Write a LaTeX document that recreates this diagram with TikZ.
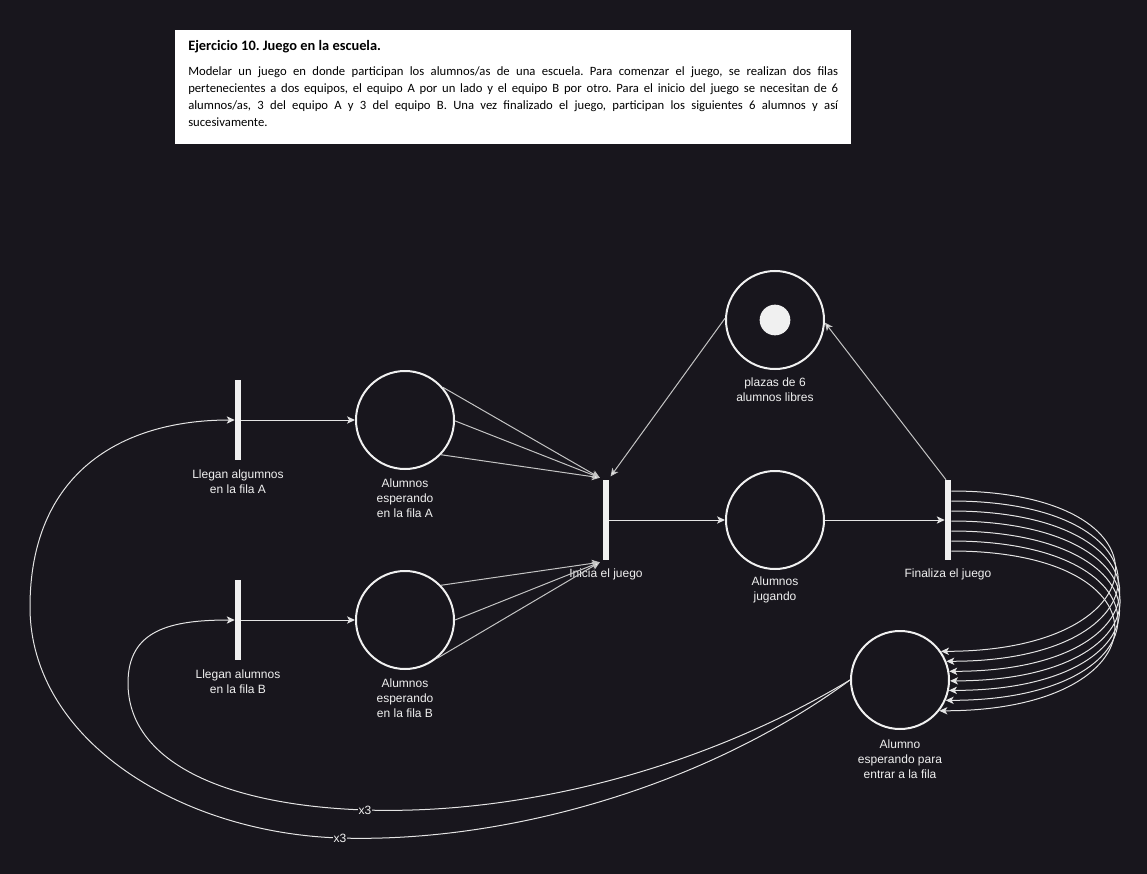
\documentclass[tikz,border=0pt]{standalone}
\usepackage{fontspec}
\setmainfont{Liberation Sans}
\newfontfamily\hdrfont{Carlito}
\usetikzlibrary{arrows.meta}
\definecolor{bg}{HTML}{18161D}
\definecolor{ink}{HTML}{F0F0F0}
\definecolor{edge}{HTML}{E4E4E4}
\definecolor{slant}{HTML}{C4C4C4}
\begin{document}
\begin{tikzpicture}[x=0.75pt,y=-0.75pt,
  place/.style={circle,draw=ink,line width=1.5pt,minimum size=73.5pt,inner sep=0pt},
  token/.style={circle,fill=ink,minimum size=23pt,inner sep=0pt},
  bar/.style={rectangle,fill=ink,minimum width=4.5pt,minimum height=60pt,inner sep=0pt},
  lbl/.style={text=ink,font=\fontsize{9}{11.25}\selectfont,align=center,inner sep=0pt},
  xlbl/.style={text=ink,fill=bg,font=\fontsize{9}{11}\selectfont,inner sep=0.6pt},
  arc/.style={draw=edge,line width=0.75pt,-{Stealth[length=6pt,width=5.5pt,inset=1.6pt]}},
  slarc/.style={arc,draw=slant,-{Stealth[length=6pt,width=5.5pt,inset=1.6pt,fill=ink]}}
]
% canvas
\fill[bg] (0,0) rectangle (1147,874);
\useasboundingbox (0,0) rectangle (1147,874);

% statement box
\node[fill=white,minimum width=507pt,minimum height=85.5pt,inner sep=0pt,anchor=north west] (box) at (175,30) {};
\node[anchor=north west,inner sep=0pt,text width=487.5pt,align=justify] (stmt) at (188,40)
{\hdrfont\frenchspacing\fontsize{9.5}{12.8}\selectfont\parindent=0pt
{\bfseries\fontsize{10.8}{12.8}\selectfont Ejercicio 10. Juego en la escuela.}\par\vspace{5.8pt}
Modelar un juego en donde participan los alumnos/as de una escuela. Para comenzar el juego, se realizan dos filas\linebreak
pertenecientes a dos equipos, el equipo A por un lado y el equipo B por otro. Para el inicio del juego se necesitan de 6\linebreak
alumnos/as, 3 del equipo A y 3 del equipo B. Una vez finalizado el juego, participan los siguientes 6 alumnos y así\linebreak
sucesivamente.\par};

% places
\node[place] (pa)  at (405,420) {};
\node[place] (pb)  at (405,620) {};
\node[place] (plz) at (775,320) {};
\node[token] (tok) at (775,320) {};
\node[place] (jug) at (775,520) {};
\node[place] (esp) at (900,680) {};

% transitions
\node[bar] (ta)  at (238,420) {};
\node[bar] (tb)  at (238,620) {};
\node[bar] (ini) at (606,520) {};
\node[bar] (fin) at (948,520) {};

% labels
\node[lbl] (lta)  at (238,482) {Llegan algumnos\\en la fila A};
\node[lbl] (ltb)  at (238,682) {Llegan alumnos\\en la fila B};
\node[lbl] (lpa)  at (405,498) {Alumnos\\esperando\\en la fila A};
\node[lbl] (lpb)  at (405,698) {Alumnos\\esperando\\en la fila B};
\node[lbl] (lini) at (606,574) {Inicia el juego};
\node[lbl] (lplz) at (775,390) {plazas de 6\\alumnos libres};
\node[lbl] (ljug) at (775,590) {Alumnos\\jugando};
\node[lbl] (lfin) at (948,574) {Finaliza el juego};
\node[lbl] (lesp) at (900,759) {Alumno\\esperando para\\entrar a la fila};

% arrivals into the queues
\draw[arc] (ta.east) -- (pa.west);
\draw[arc] (tb.east) -- (pb.west);

% three students from each queue start the game
\foreach \a in {41,-1,-44}
  \draw[slarc] (pa.\a) -- ([xshift=-2.2pt,yshift=1.5pt]ini.north west);
\foreach \a in {44,0,-50}
  \draw[slarc] (pb.\a) -- ([xshift=-2.2pt,yshift=-1.5pt]ini.south west);
\draw[slarc] (plz.178) -- ([xshift=1pt,yshift=2.5pt]ini.north east);

% game runs and ends
\draw[arc] (ini.east) -- (jug.west);
\draw[arc] (jug.east) -- (fin.west);
\draw[slarc] ([xshift=-1.5pt]fin.north) -- (plz.-3);

% six students go back to the waiting place
\foreach \d/\a in {-29/35.45,-19/22.33,-9/10.37,1/-1.15,11/-12.7,21/-24.8,31/-38.3}
  \draw[arc] ([yshift=-\d*0.75pt]fin.east) .. controls +(225,0) and +(225,0) .. (esp.\a);

% back into the queues, three at a time
\draw[arc] (esp.west) .. controls (700,790) and (500,843) .. (340,838) node[xlbl] (x3a) {x3}
  .. controls (180,833) and (30,740) .. (30,607)
  .. controls (30,474) and (120,420) .. (ta.west);
\draw[arc] (esp.west) .. controls (700,770) and (520,815) .. (365,810) node[xlbl] (x3b) {x3}
  .. controls (220,805) and (128,760) .. (128,683)
  .. controls (128,630) and (170,620) .. (tb.west);
\end{tikzpicture}
\end{document}
